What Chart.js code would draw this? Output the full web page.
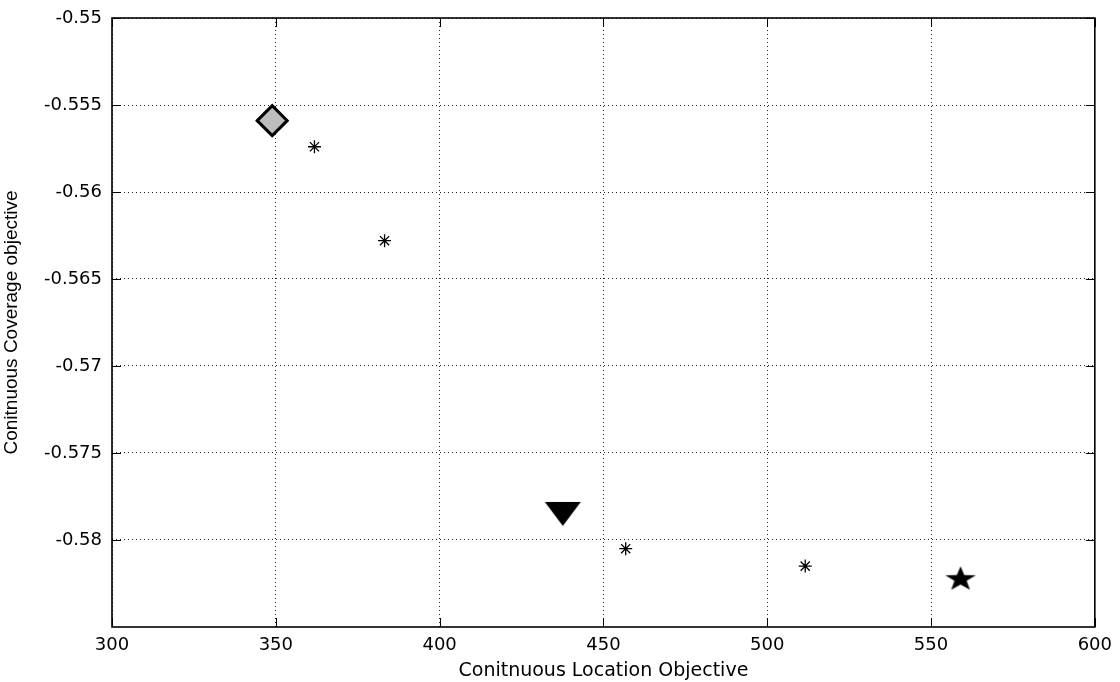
<!DOCTYPE html>
<html>
<head>
<meta charset="utf-8">
<script src="https://cdn.jsdelivr.net/npm/chart.js@4/dist/chart.umd.min.js"></script>
<style>
  html, body { margin: 0; padding: 0; background: #fff; }
  #wrap { width: 1120px; height: 682px; }
</style>
</head>
<body>
<div id="wrap"><canvas id="chart"></canvas></div>
<script>
// values
const xTicks = [300, 350, 400, 450, 500, 550, 600];
const yTicks = [-0.55, -0.555, -0.56, -0.565, -0.57, -0.575, -0.58];

const diamondX = [348.9];
const diamondY = [-0.5559];

const asteriskX = [361.8, 383.2, 456.8, 511.6];
const asteriskY = [-0.5574, -0.5628, -0.5805, -0.5815];

const triangleX = [437.6];
const triangleY = [-0.5785];

const starX = [559.0];
const starY = [-0.5822];

function pairs(xs, ys) {
  return xs.map((x, i) => ({x: x, y: ys[i]}));
}

function makeStar() {
  const c = document.createElement('canvas');
  c.width = 34; c.height = 28;
  const g = c.getContext('2d');
  const R = 16, r = 6.4;
  g.translate(17, 15);
  g.scale(1, 0.82);
  g.beginPath();
  for (let i = 0; i < 10; i++) {
    const a = -Math.PI / 2 + i * Math.PI / 5;
    const rr = i % 2 ? r : R;
    g.lineTo(Math.cos(a) * rr, Math.sin(a) * rr);
  }
  g.closePath();
  g.fillStyle = '#000';
  g.fill();
  return c;
}

function makeTriangle() {
  const c = document.createElement('canvas');
  c.width = 38; c.height = 26;
  const g = c.getContext('2d');
  g.beginPath();
  g.moveTo(1, 1);
  g.lineTo(37, 1);
  g.lineTo(19, 25);
  g.closePath();
  g.fillStyle = '#000';
  g.fill();
  return c;
}

// MATLAB-like box with inward ticks
const boxPlugin = {
  id: 'box',
  afterDraw(chart) {
    const {ctx, chartArea: a, scales} = chart;
    ctx.save();
    ctx.strokeStyle = '#000';
    ctx.lineWidth = 1;
    const len = 9;
    ctx.beginPath();
    scales.x.ticks.forEach(t => {
      const px = Math.round(scales.x.getPixelForValue(t.value)) + 0.5;
      ctx.moveTo(px, a.bottom); ctx.lineTo(px, a.bottom - len);
      ctx.moveTo(px, a.top); ctx.lineTo(px, a.top + len);
    });
    scales.y.ticks.forEach(t => {
      const py = Math.round(scales.y.getPixelForValue(t.value)) + 0.5;
      ctx.moveTo(a.left, py); ctx.lineTo(a.left + len, py);
      ctx.moveTo(a.right, py); ctx.lineTo(a.right - len, py);
    });
    ctx.stroke();
    ctx.lineWidth = 1.6;
    ctx.strokeRect(a.left, a.top, a.right - a.left, a.bottom - a.top);
    ctx.restore();
  }
};

const tickFont = {family: 'DejaVu Sans', size: 18};

new Chart(document.getElementById('chart'), {
  type: 'scatter',
  data: {
    datasets: [
      {
        data: pairs(diamondX, diamondY),
        pointStyle: 'rectRot',
        pointRadius: 15,
        backgroundColor: '#bdbdbd',
        borderColor: '#000',
        borderWidth: 3,
      },
      {
        data: pairs(asteriskX, asteriskY),
        pointStyle: 'star',
        pointRadius: 6.5,
        borderColor: '#000',
        borderWidth: 1.3,
      },
      {
        data: pairs(triangleX, triangleY),
        pointStyle: makeTriangle(),
      },
      {
        data: pairs(starX, starY),
        pointStyle: makeStar(),
      },
    ],
  },
  options: {
    responsive: true,
    maintainAspectRatio: false,
    animation: false,
    events: [],
    layout: {padding: {top: 14, right: 23, left: 0, bottom: 0}},
    plugins: {legend: {display: false}, tooltip: {enabled: false}},
    scales: {
      x: {
        type: 'linear',
        min: 300,
        max: 600,
        afterBuildTicks: s => { s.ticks = xTicks.map(v => ({value: v})); },
        afterFit: s => { s.height = 55; },
        border: {display: false, dash: [1, 3]},
        grid: {color: '#222', lineWidth: 1, drawTicks: false},
        ticks: {color: '#000', font: tickFont, padding: 8, maxRotation: 0},
        title: {
          display: true,
          text: 'Conitnuous Location Objective',
          color: '#000',
          font: {family: 'DejaVu Sans', size: 19},
          padding: {top: 1, bottom: 0},
        },
      },
      y: {
        type: 'linear',
        min: -0.585,
        max: -0.55,
        afterBuildTicks: s => { s.ticks = yTicks.map(v => ({value: v})); },
        afterFit: s => { s.width = 112; s.paddingTop = 0; s.paddingBottom = 0; },
        border: {display: false, dash: [1, 3]},
        grid: {color: '#222', lineWidth: 1, drawTicks: false},
        ticks: {
          color: '#000',
          font: tickFont,
          padding: 10,
          callback: v => String(+v.toFixed(3)),
        },
        title: {
          display: true,
          text: 'Conitnuous Coverage objective',
          color: '#000',
          font: {family: 'Liberation Sans', size: 19},
          padding: {top: 0, bottom: 0},
        },
      },
    },
  },
  plugins: [boxPlugin],
});
</script>
</body>
</html>
